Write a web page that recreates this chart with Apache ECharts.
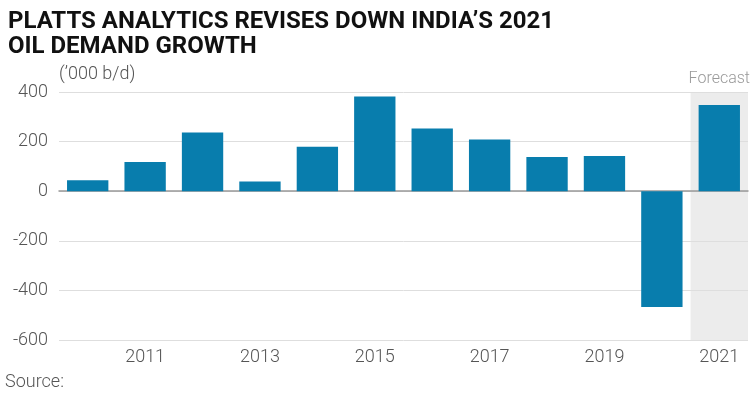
<!DOCTYPE html>
<html><head><meta charset="utf-8">
<script src="https://cdn.jsdelivr.net/npm/echarts@6/dist/echarts.min.js"></script>
<style>html,body{margin:0;padding:0;background:#fff}#c{width:756px;height:397px}</style>
</head><body><div id="c"></div>
<script>
const categories = ['2010','2011','2012','2013','2014','2015','2016','2017','2018','2019','2020','2021'];
const growth = [44, 118, 237, 39, 179, 382, 253, 208, 138, 142, -467, 348];
const forecastTop = [null,null,null,null,null,null,null,null,null,null,null,400];
const forecastBottom = [null,null,null,null,null,null,null,null,null,null,null,-600];
const yTicks = [-600, -400, -200, 0, 200, 400];
const titleText = "PLATTS ANALYTICS REVISES DOWN INDIA\u2019S 2021\nOIL DEMAND GROWTH";
const unitText = "(\u2019000 b/d)";
const forecastText = "Forecast";
const sourceText = "Source:";

const labelFont = "Roboto, sans-serif";
const chart = echarts.init(document.getElementById('c'), null, {renderer:'canvas'});
chart.setOption({
  animation: false,
  title: {
    text: titleText, left: 3, top: 4,
    textStyle: {fontFamily: labelFont, fontWeight: 'bold', fontSize: 24, lineHeight: 25, color: '#111'}
  },
  graphic: [{type:'text', left: 5, top: 373, style:{text: sourceText, font: "300 18px " + labelFont, fill:'#555'}}],
  grid: {left: 59, right: 8, top: 92, bottom: 57},
  xAxis: [{
    type: 'category', data: categories, z: 3,
    axisLine: {onZero: true, lineStyle: {color: '#999', width: 1.5}},
    axisTick: {show: false},
    axisLabel: {interval: (i) => i % 2 === 1, color: '#555', fontSize: 18, fontWeight: 300, fontFamily: labelFont, margin: 8},
  }, {
    type: 'category', data: categories, show: false
  }],
  yAxis: {
    type: 'value', min: yTicks[0], max: yTicks[yTicks.length-1], interval: 200, z: 3,
    name: unitText, nameLocation: 'end', nameGap: 9,
    nameTextStyle: {align: 'left', color: '#555', fontSize: 18, fontWeight: 300, fontFamily: labelFont},
    axisLine: {show: false}, axisTick: {show: false},
    axisLabel: {color: '#555', fontSize: 18, fontWeight: 300, fontFamily: labelFont, margin: 11},
    splitLine: {lineStyle: {color: '#dedede', width: 1}}
  },
  series: [{
    type: 'bar', xAxisIndex: 1, stack: 'bg', data: forecastTop, barWidth: '100%', silent: true, z: 1,
    itemStyle: {color: '#ececec'},
    label: {show: true, position: 'top', distance: 5, formatter: forecastText, color: '#999', fontSize: 16, fontWeight: 300, fontFamily: labelFont}
  }, {
    type: 'bar', xAxisIndex: 1, stack: 'bg', data: forecastBottom, barWidth: '100%', silent: true, z: 1,
    itemStyle: {color: '#ececec'}
  }, {
    type: 'bar', xAxisIndex: 0, data: growth, barWidth: '72%', z: 5,
    itemStyle: {color: '#087dad'}
  }]
});
</script></body></html>
